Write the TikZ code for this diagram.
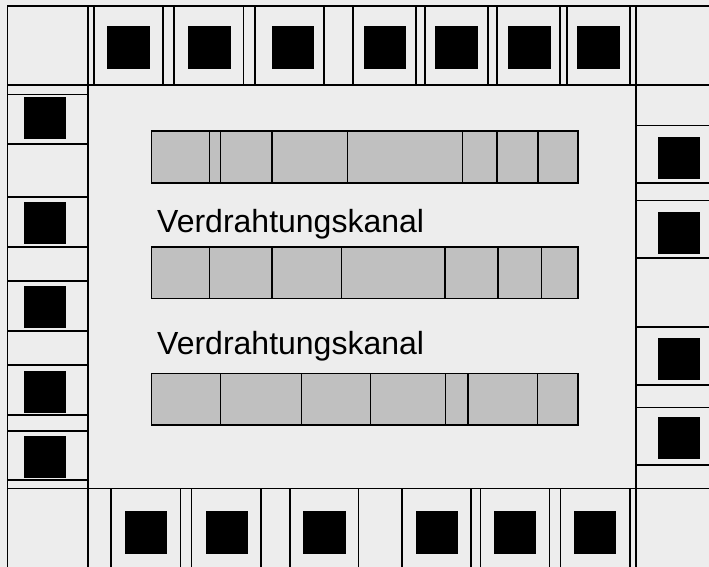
\documentclass[tikz,border=0pt]{standalone}
\usepackage{fontspec}
\setmainfont{Liberation Sans}
\definecolor{chipbg}{HTML}{EDEDED}
\definecolor{rowfill}{HTML}{C0C0C0}
\tikzset{
  cellline/.style={draw=black,line width=1.6pt},
  padsq/.style={fill=black,draw=none},
  rowbox/.style={fill=rowfill,draw=black,line width=1.6pt},
  channel/.style={anchor=base west,inner sep=0pt,font=\fontsize{32pt}{36pt}\selectfont,text=black}
}
\begin{document}
\begin{tikzpicture}[x=1pt,y=-1pt]
\path[use as bounding box,fill=chipbg] (0,0) rectangle (709,567);
\clip (0,0) rectangle (709,567);
% rows
\foreach \yt/\yb/\dividers in {131/183/{209.5,220.5,272,347.5,462.5,497,538},
                               246.7/298.3/{209.5,272,341.5,445,498,541.5},
                               373.5/425/{220.5,301.5,370.5,445.5,468,537.5}}{
  \path[rowbox] (151.5,\yt) rectangle (578,\yb);
  \foreach \x in \dividers { \draw[cellline] (\x,\yt) -- (\x,\yb); }
}
% outline
\draw[cellline] (709,6) -- (7.5,6) -- (7.5,567);
\draw[cellline] (7.5,85) -- (709,85);
\draw[cellline] (7.5,488.5) -- (709,488.5);
\draw[cellline] (88,6) -- (88,567);
\draw[cellline] (636,6) -- (636,567);
% top verticals
\foreach \x in {94,163,174,243.5,255,324,353,416,425,488,497,560,567,630}
  { \draw[cellline] (\x,6) -- (\x,85); }
% bottom verticals
\foreach \x in {111,180.5,191.5,261,290,358.5,402,471,480.5,549.5,560.5,630}
  { \draw[cellline] (\x,488.5) -- (\x,567); }
% left horizontals
\foreach \y in {94.5,144,197,247,281,331,365,415,431,480}
  { \draw[cellline] (7.5,\y) -- (88,\y); }
% right horizontals
\foreach \y in {125.5,183,200.5,258,327,385,407.5,465}
  { \draw[cellline] (636,\y) -- (709,\y); }
% pads
\foreach \x in {107,188,271.5,363.5,435,508,577}
  { \fill[padsq] (\x,26.5) rectangle ++(42.5,42.5); }
\foreach \x in {124.5,205.5,303,415.5,493.5,573.5}
  { \fill[padsq] (\x,511) rectangle ++(42.5,42.5); }
\foreach \y in {97,202,286,371,436}
  { \fill[padsq] (24,\y) rectangle ++(42,42); }
\foreach \y in {137,212,338,416.5}
  { \fill[padsq] (657.7,\y) rectangle ++(42.5,42); }
% labels
\node[channel] (kanalA) at (157,232.5) {Verdrahtungskanal};
\node[channel] (kanalB) at (157,354.5) {Verdrahtungskanal};
\end{tikzpicture}
\end{document}
